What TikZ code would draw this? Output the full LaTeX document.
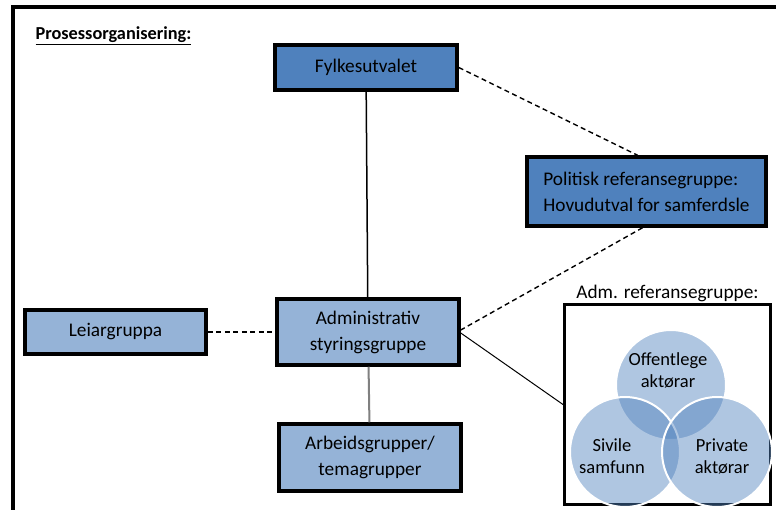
\documentclass[tikz,border=0pt]{standalone}
\usepackage{fontspec}
\setmainfont{Carlito}
\usepackage{tikz}
\usetikzlibrary{positioning}
\definecolor{darkblue}{RGB}{79,129,189}
\definecolor{lightblue}{RGB}{149,179,215}

\begin{document}
\begin{tikzpicture}[x=1pt, y=-1pt,
    box/.style={draw=black, line width=3.5pt, align=center, inner sep=0pt,
        font=\fontsize{19.3}{26}\selectfont},
    darkbox/.style={box, fill=darkblue},
    lightbox/.style={box, fill=lightblue},
    venn/.style={fill=darkblue, fill opacity=0.45, draw=white, line width=2pt},
    vennlabel/.style={align=center, font=\fontsize{18.5}{22}\selectfont},
    dashline/.style={line width=1.4pt, dash pattern=on 5pt off 3.5pt}]
    \useasboundingbox (0,0) rectangle (776,510);
    \fill[white] (0,0) rectangle (776,510);
    \draw[line width=4pt] (12.5,515) -- (12.5,7.5) -- (780,7.5);

    \node[anchor=west, font=\bfseries\fontsize{18.3}{18}\selectfont] (title) at (32,36) {\underline{Prosessorganisering:}};

    \node[darkbox, minimum width=182, minimum height=45] (fylke) at (366,67.5) {Fylkesutvalet};
    \node[darkbox, minimum width=239, minimum height=69, align=left] (pol) at (646.5,191.5) {Politisk referansegruppe:\\Hovudutval for samferdsle};
    \node[lightbox, minimum width=182, minimum height=66] (adm) at (368,332) {Administrativ\\styringsgruppe};
    \node[lightbox, minimum width=181, minimum height=44] (leiar) at (115.5,332) {Leiargruppa};
    \node[lightbox, minimum width=182, minimum height=67] (arb) at (370,457.5) {Arbeidsgrupper/\\temagrupper};

    % adm. referansegruppe
    \node[draw=black, line width=3pt, minimum width=206, minimum height=200, inner sep=0pt] (vennbox) at (667.5,404.5) {};
    \node[above=-2pt of vennbox, font=\fontsize{19.3}{19}\selectfont] (vennhead) {Adm. referansegruppe:};
    \draw[venn] (671,385) circle (55);
    \draw[venn] (625,452) circle (55);
    \draw[venn] (717,452) circle (55);
    \node[vennlabel] (offtxt) at (668,370) {Offentlege\\aktørar};
    \node[vennlabel] (sivtxt) at (612,456) {Sivile\\samfunn};
    \node[vennlabel] (privtxt) at (722,456) {Private\\aktørar};

    \draw[line width=1.5pt] (fylke) -- (adm);
    \draw[line width=2pt, gray] (adm) -- (arb);
    \draw[dashline] (leiar) -- (adm);
    \draw[dashline] (fylke.east) -- ([xshift=-9pt]pol.north);
    \draw[dashline] ([xshift=-4pt]pol.south) -- ([yshift=2pt]adm.east);
    \draw[line width=1pt] ([yshift=-1pt]adm.east) -- (vennbox.west);
\end{tikzpicture}
\end{document}
